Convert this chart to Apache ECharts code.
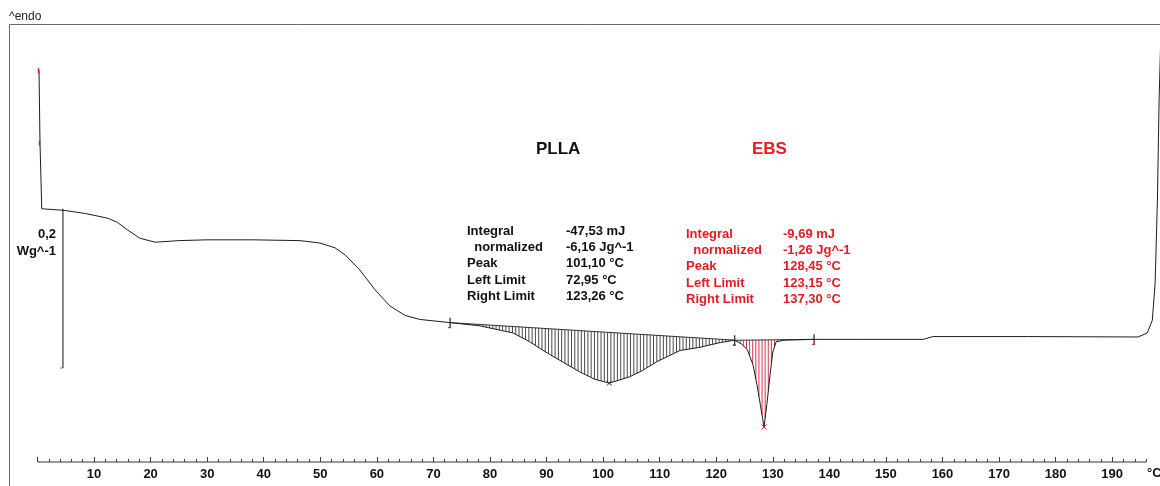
<!DOCTYPE html>
<html>
<head>
<meta charset="utf-8">
<script src="https://cdn.jsdelivr.net/npm/echarts@6.0.0/dist/echarts.min.js"></script>
<style>
  html, body { margin: 0; padding: 0; background: #fff; }
  #chart { width: 1160px; height: 486px; }
</style>
</head>
<body>
<div id="chart"></div>
<script>
// DSC heating scan: temperature (°C) against heat flow (W/g, endo up)
const temperature = [
  0.27, 0.44, 0.75, 4.7, 8.5, 12.5, 14.1, 16.0, 18.1, 20.8, 25, 30, 38, 46.4, 49.9,
  52.6, 54.4, 57.0, 59.7, 62.3, 65.0, 67.6, 72.95, 78.2, 84.1, 87, 90.1, 93, 95.9,
  98.5, 101.1, 104.7, 107, 109.5, 113.6, 117.1, 120.7, 123.26, 124.5, 125.5, 126.5,
  127.2, 127.8, 128.45, 128.95, 129.5, 130.0, 130.6, 132, 137.3, 145, 156.6, 158.3,
  175, 194.6, 196.2, 197.1, 197.6, 198.0, 198.3, 198.7
];
const heatFlow = [
  0.042, -0.049, -0.132, -0.134, -0.138, -0.144, -0.149, -0.159, -0.169, -0.174, -0.172, -0.171, -0.171, -0.172, -0.175,
  -0.181, -0.190, -0.209, -0.234, -0.254, -0.266, -0.271, -0.275, -0.279, -0.288, -0.299, -0.313, -0.325, -0.337,
  -0.346, -0.351, -0.343, -0.335, -0.324, -0.310, -0.306, -0.300, -0.297, -0.302, -0.309, -0.328,
  -0.353, -0.378, -0.406, -0.378, -0.341, -0.312, -0.299, -0.297, -0.296, -0.296, -0.296, -0.2925,
  -0.2925, -0.293, -0.288, -0.272, -0.225, -0.121, 0.005, 0.11
];

// evaluated peaks: [left limit, right limit] and peak temperature
const pllaLimits = [72.95, 123.26];
const pllaPeak = 101.10;
const ebsLimits = [123.15, 137.30];
const ebsPeak = 128.45;

// event marks at the start of the run
const startEvents = [0.27, 0.44];

// scale bar: 0,2 W/g
const scaleBarT = 4.5;
const scaleBarTop = -0.132;
const scaleBarSpan = 0.2;

// temperature axis
const axisStart = 0;
const axisEnd = 196;
const majorTicks = [0, 10, 20, 30, 40, 50, 60, 70, 80, 90, 100, 110, 120, 130, 140, 150, 160, 170, 180, 190];
const tickLabels = [10, 20, 30, 40, 50, 60, 70, 80, 90, 100, 110, 120, 130, 140, 150, 160, 170, 180, 190];
const minorTicks = [];
for (let t = axisStart; t <= axisEnd; t += 2) minorTicks.push(t);

// heat-flow range of the plot area
const flowMin = -0.45;
const flowMax = 0.10;

// evaluation tables
const pllaTable = [
  ['Integral', '-47,53 mJ'],
  ['  normalized', '-6,16 Jg^-1'],
  ['Peak', '101,10 °C'],
  ['Left Limit', '72,95 °C'],
  ['Right Limit', '123,26 °C']
];
const ebsTable = [
  ['Integral', '-9,69 mJ'],
  ['  normalized', '-1,26 Jg^-1'],
  ['Peak', '128,45 °C'],
  ['Left Limit', '123,15 °C'],
  ['Right Limit', '137,30 °C']
];

const RED = '#e31b23';
const FONT = '"Liberation Sans", Arial, Helvetica, sans-serif';

function flowAt(t) {
  for (let i = 1; i < temperature.length; i++) {
    if (t <= temperature[i]) {
      const t0 = temperature[i - 1], t1 = temperature[i];
      const f = (t - t0) / (t1 - t0);
      return heatFlow[i - 1] + f * (heatFlow[i] - heatFlow[i - 1]);
    }
  }
  return heatFlow[heatFlow.length - 1];
}

// vertical hatch lines between the linear baseline and the curve
function hatch(limits, step) {
  const a = limits[0], b = limits[1];
  const fa = flowAt(a), fb = flowAt(b);
  const out = [];
  for (let t = a + step; t < b; t += step) {
    const base = fa + (fb - fa) * (t - a) / (b - a);
    out.push([t, flowAt(t), base]);
  }
  return out;
}

const curve = temperature.map((t, i) => [t, heatFlow[i]]);

const chart = echarts.init(document.getElementById('chart'), null, { renderer: 'canvas' });

function hatchSeries(data, color) {
  return {
    type: 'custom',
    clip: false,
    silent: true,
    encode: { x: 0, y: [1, 2] },
    data: data,
    z: 1,
    renderItem: (params, api) => {
      const p1 = api.coord([api.value(0), api.value(1)]);
      const p2 = api.coord([api.value(0), api.value(2)]);
      return {
        type: 'line',
        shape: { x1: p1[0], y1: p1[1], x2: p2[0], y2: p2[1] },
        style: { stroke: color, lineWidth: 1 }
      };
    }
  };
}

function baselineSeries(limits, color) {
  return {
    type: 'line',
    data: [[limits[0], flowAt(limits[0])], [limits[1], flowAt(limits[1])]],
    showSymbol: false,
    silent: true,
    lineStyle: { color: color, width: 1 },
    z: 2
  };
}

// small vertical limit ticks
function limitSeries(points, footColor) {
  return {
    type: 'custom',
    clip: false,
    silent: true,
    data: points.map(t => [t, flowAt(t)]),
    z: 4,
    renderItem: (params, api) => {
      const p = api.coord([api.value(0), api.value(1)]);
      return {
        type: 'group',
        children: [
          { type: 'line', shape: { x1: p[0], y1: p[1] - 5, x2: p[0], y2: p[1] + 5 }, style: { stroke: '#222', lineWidth: 1.2 } },
          { type: 'line', shape: { x1: p[0] - 2, y1: p[1] + 5, x2: p[0] + 1, y2: p[1] + 5 }, style: { stroke: footColor, lineWidth: 1.2 } }
        ]
      };
    }
  };
}

// cross at the peak minimum
function peakSeries(t, color) {
  return {
    type: 'custom',
    clip: false,
    silent: true,
    data: [[t, flowAt(t)]],
    z: 4,
    renderItem: (params, api) => {
      const p = api.coord([api.value(0), api.value(1)]);
      return {
        type: 'group',
        children: [
          { type: 'line', shape: { x1: p[0] - 2.5, y1: p[1] - 2.5, x2: p[0] + 2.5, y2: p[1] + 2.5 }, style: { stroke: color, lineWidth: 1 } },
          { type: 'line', shape: { x1: p[0] - 2.5, y1: p[1] + 2.5, x2: p[0] + 2.5, y2: p[1] - 2.5 }, style: { stroke: color, lineWidth: 1 } }
        ]
      };
    }
  };
}

function tableGraphics(rows, x, valueX, y0, dy, color) {
  const g = [];
  rows.forEach((r, i) => {
    g.push({ type: 'text', left: x, top: y0 + i * dy, z: 10,
      style: { text: r[0], font: 'bold 13px ' + FONT, fill: color } });
    g.push({ type: 'text', left: valueX, top: y0 + i * dy, z: 10,
      style: { text: r[1], font: 'bold 13px ' + FONT, fill: color } });
  });
  return g;
}

const graphics = [
  { type: 'rect', shape: { x: 9.5, y: 24.5, width: 1200, height: 520 },
    style: { fill: 'none', stroke: '#6a6a6a', lineWidth: 1 }, z: 0, silent: true },
  { type: 'text', left: 9, top: 11, style: { text: '^endo', font: '12px ' + FONT, fill: '#222' } },
  { type: 'text', right: 1160 - 56, top: 228, style: { text: '0,2', font: 'bold 13px ' + FONT, fill: '#111', align: 'right' } },
  { type: 'text', right: 1160 - 56, top: 245, style: { text: 'Wg^-1', font: 'bold 13px ' + FONT, fill: '#111', align: 'right' } },
  { type: 'text', left: 536, top: 141, style: { text: 'PLLA', font: 'bold 17px ' + FONT, fill: '#111' } },
  { type: 'text', left: 752, top: 141, style: { text: 'EBS', font: 'bold 17px ' + FONT, fill: RED } },
  { type: 'text', left: 1147, top: 467, style: { text: '°C', font: 'bold 13px ' + FONT, fill: '#111' } }
].concat(
  tableGraphics(pllaTable, 467, 566, 225, 16.2, '#111'),
  tableGraphics(ebsTable, 686, 783, 228, 16.2, RED)
);

// the plot area runs slightly past the right edge so the final rise of the trace stays inside it
const X_MAX = 199.5;

chart.setOption({
  animation: false,
  backgroundColor: '#fff',
  grid: { left: 37.5, right: -5.9, top: 24, bottom: 24, outerBoundsMode: 'none' },
  xAxis: [
    {
      type: 'value', min: 0, max: X_MAX, position: 'bottom',
      axisLine: { show: false, onZero: false },
      axisTick: { show: true, inside: true, length: 5, customValues: majorTicks, lineStyle: { color: '#333' } },
      axisLabel: { customValues: tickLabels, margin: 6, fontWeight: 'bold', fontSize: 13, color: '#111', fontFamily: FONT },
      splitLine: { show: false }
    },
    {
      type: 'value', min: 0, max: X_MAX, position: 'bottom',
      axisLine: { show: false, onZero: false },
      axisTick: { show: true, inside: true, length: 3, customValues: minorTicks, lineStyle: { color: '#444' } },
      axisLabel: { show: false },
      splitLine: { show: false }
    }
  ],
  yAxis: { type: 'value', min: flowMin, max: flowMax, show: false },
  graphic: graphics,
  series: [
    {
      // temperature axis line
      type: 'line', data: [[axisStart, flowMin], [axisEnd, flowMin]],
      showSymbol: false, silent: true, clip: false,
      lineStyle: { color: '#333', width: 1 }, z: 0
    },
    hatchSeries(hatch(pllaLimits, 0.58), '#4a4a4a'),
    hatchSeries(hatch(ebsLimits, 0.55), '#d9344c'),
    baselineSeries(pllaLimits, '#333'),
    baselineSeries(ebsLimits, '#333'),
    {
      type: 'line', data: curve, showSymbol: false, clip: false, silent: true,
      lineStyle: { color: '#1e1e1e', width: 1 }, z: 3
    },
    {
      // scale bar
      type: 'line', data: [[scaleBarT, scaleBarTop], [scaleBarT, scaleBarTop - scaleBarSpan]],
      showSymbol: false, silent: true, clip: false,
      lineStyle: { color: '#111', width: 1 }, z: 3
    },
    {
      type: 'custom', clip: false, silent: true, z: 3,
      data: [[scaleBarT, scaleBarTop - scaleBarSpan]],
      renderItem: (params, api) => {
        const p = api.coord([api.value(0), api.value(1)]);
        return { type: 'line', shape: { x1: p[0] - 3, y1: p[1], x2: p[0], y2: p[1] }, style: { stroke: '#888', lineWidth: 1 } };
      }
    },
    {
      type: 'custom', clip: false, silent: true, z: 4,
      data: startEvents.map(t => [t, flowAt(t)]),
      renderItem: (params, api) => {
        const p = api.coord([api.value(0), api.value(1)]);
        return { type: 'line', shape: { x1: p[0] - 0.5, y1: p[1] - 2, x2: p[0] - 0.5, y2: p[1] + 3 }, style: { stroke: RED, lineWidth: 1.5 } };
      }
    },
    limitSeries([pllaLimits[0]], RED),
    limitSeries([pllaLimits[1]], '#222'),
    limitSeries([ebsLimits[1]], RED),
    peakSeries(pllaPeak, '#222'),
    peakSeries(ebsPeak, RED)
  ]
});
</script>
</body>
</html>
